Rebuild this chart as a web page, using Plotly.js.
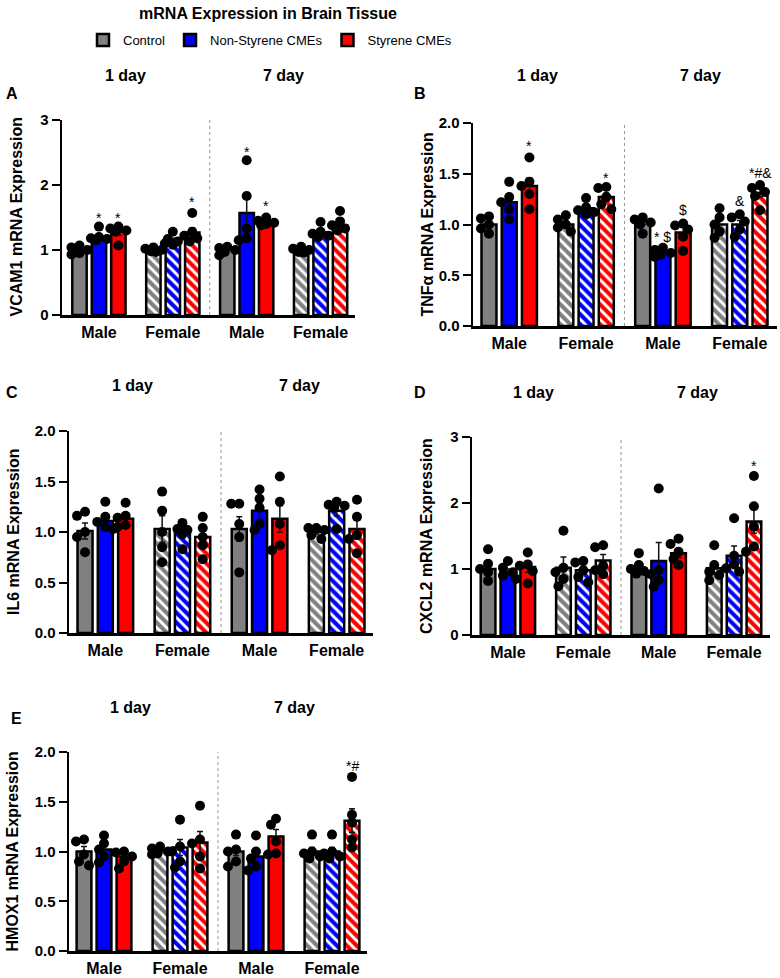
<!DOCTYPE html>
<html>
<head>
<meta charset="utf-8">
<script src="https://cdn.plot.ly/plotly-3.0.1.min.js"></script>
<style>
  html, body { margin: 0; padding: 0; background: #fff; }
  #chart { width: 780px; height: 978px; }
</style>
</head>
<body>
<div id="chart"></div>
<script>
// bar order in every panel: Male 1d (C, N, S), Female 1d, Male 7d, Female 7d
const treatments = ['Control', 'Non-Styrene CMEs', 'Styrene CMEs'];
const fills = ['#808080', '#0000ff', '#ff0000'];
const groupLabels = ['Male', 'Female', 'Male', 'Female'];
const femaleGroup = [false, true, false, true];

// A - VCAM1
const vcamMean = [1.00, 1.20, 1.28, 1.00, 1.14, 1.27, 1.02, 1.57, 1.43, 0.99, 1.27, 1.38];
const vcamSem = [0.02, 0.04, 0.05, 0.02, 0.04, 0.07, 0.02, 0.22, 0.02, 0.02, 0.04, 0.06];
const vcamPts = [
  [1.07, 1.04, 1.00, 0.95, 0.93], [1.36, 1.20, 1.18, 1.17, 1.15], [1.36, 1.33, 1.30, 1.28, 1.07],
  [1.04, 1.02, 1.00, 0.98, 0.97], [1.28, 1.17, 1.13, 1.10, 1.08], [1.57, 1.28, 1.22, 1.18, 1.13],
  [1.05, 1.03, 1.00, 0.97, 0.92], [2.38, 1.83, 1.33, 1.18, 1.15], [1.50, 1.45, 1.42, 1.40, 1.38],
  [1.05, 1.02, 1.00, 0.97, 0.96], [1.43, 1.28, 1.25, 1.22, 1.20], [1.60, 1.44, 1.38, 1.33, 1.30]
];
const vcamSigBar = [1, 2, 5, 7, 8];
const vcamSigText = ['*', '*', '*', '*', '*'];
const vcamSigY = [1.54, 1.54, 1.78, 2.56, 1.72];

// B - TNFa
const tnfMean = [1.00, 1.22, 1.38, 1.00, 1.16, 1.27, 1.03, 0.73, 0.92, 1.00, 1.00, 1.31];
const tnfSem = [0.03, 0.07, 0.08, 0.03, 0.03, 0.04, 0.03, 0.02, 0.05, 0.05, 0.04, 0.04];
const tnfPts = [
  [1.08, 1.06, 1.00, 0.96, 0.91], [1.42, 1.27, 1.22, 1.15, 1.05], [1.66, 1.42, 1.38, 1.30, 1.15],
  [1.09, 1.05, 1.00, 0.97, 0.93], [1.26, 1.17, 1.14, 1.12, 1.10], [1.37, 1.36, 1.27, 1.20, 1.15],
  [1.07, 1.05, 1.02, 1.00, 0.91], [0.77, 0.75, 0.72, 0.70, 0.68], [1.01, 0.99, 0.95, 0.88, 0.74],
  [1.16, 1.07, 1.00, 0.93, 0.87], [1.10, 1.07, 1.03, 0.95, 0.88], [1.39, 1.36, 1.32, 1.28, 1.14]
];
const tnfSigBar = [2, 5, 7, 8, 10, 11];
const tnfSigText = ['*', '*', '* $', '$', '&', '*#&'];
const tnfSigY = [1.80, 1.49, 0.91, 1.17, 1.26, 1.54];

// C - IL6
const il6Mean = [1.01, 1.11, 1.13, 1.03, 0.99, 0.95, 1.03, 1.21, 1.13, 1.00, 1.21, 1.03];
const il6Sem = [0.08, 0.05, 0.04, 0.13, 0.05, 0.07, 0.12, 0.07, 0.13, 0.02, 0.05, 0.10];
const il6Pts = [
  [1.20, 1.16, 1.00, 0.95, 0.80], [1.30, 1.15, 1.10, 1.05, 1.03], [1.29, 1.16, 1.14, 1.07, 1.05],
  [1.40, 1.21, 1.00, 0.85, 0.70], [1.09, 1.03, 1.02, 0.98, 0.83], [1.15, 1.04, 0.95, 0.87, 0.73],
  [1.28, 1.28, 1.08, 0.95, 0.60], [1.42, 1.33, 1.24, 1.08, 1.02], [1.55, 1.30, 1.08, 0.87, 0.82],
  [1.04, 1.04, 1.02, 0.97, 0.93], [1.30, 1.27, 1.26, 1.24, 1.03], [1.32, 1.15, 0.97, 0.93, 0.79]
];
const il6SigBar = [];
const il6SigText = [];
const il6SigY = [];

// D - CXCL2
const cxclMean = [1.00, 0.95, 1.03, 1.02, 0.98, 1.13, 1.01, 1.12, 1.24, 1.01, 1.20, 1.72];
const cxclSem = [0.08, 0.05, 0.08, 0.16, 0.06, 0.09, 0.05, 0.28, 0.07, 0.09, 0.15, 0.18];
const cxclPts = [
  [1.30, 1.08, 1.00, 0.95, 0.82], [1.12, 1.02, 0.95, 0.90, 0.85], [1.25, 1.07, 1.05, 0.97, 0.78],
  [1.58, 1.02, 0.95, 0.85, 0.74], [1.12, 1.10, 0.98, 0.88, 0.80], [1.36, 1.33, 1.05, 0.98, 0.92],
  [1.24, 1.06, 1.00, 0.97, 0.93], [2.22, 0.98, 0.92, 0.83, 0.73], [1.46, 1.38, 1.26, 1.15, 1.06],
  [1.36, 1.06, 0.96, 0.91, 0.83], [1.77, 1.20, 1.07, 1.01, 0.96], [2.41, 1.95, 1.64, 1.34, 1.26]
];
const cxclSigBar = [11];
const cxclSigText = ['*'];
const cxclSigY = [2.60];

// E - HMOX1
const hmoxMean = [1.00, 1.02, 0.95, 1.01, 1.04, 1.09, 1.00, 0.95, 1.15, 1.00, 1.00, 1.31];
const hmoxSem = [0.05, 0.05, 0.04, 0.02, 0.08, 0.11, 0.04, 0.06, 0.07, 0.04, 0.04, 0.12];
const hmoxPts = [
  [1.12, 1.10, 0.97, 0.90, 0.86], [1.16, 1.08, 1.02, 0.95, 0.89], [1.00, 0.99, 0.95, 0.90, 0.83],
  [1.05, 1.03, 1.00, 0.98, 0.97], [1.32, 1.05, 1.00, 0.90, 0.84], [1.46, 1.12, 1.08, 0.95, 0.83],
  [1.17, 1.02, 1.00, 0.90, 0.85], [1.16, 1.00, 0.93, 0.85, 0.81], [1.33, 1.27, 1.10, 0.98, 0.97],
  [1.17, 1.00, 0.98, 0.95, 0.93], [1.17, 1.00, 0.98, 0.95, 0.93], [1.75, 1.37, 1.29, 1.12, 1.04]
];
const hmoxSigBar = [11];
const hmoxSigText = ['*#'];
const hmoxSigY = [1.89];

const W = 780, H = 978;
const FONT = 'Liberation Sans, Arial, sans-serif';
const S = 3.8; // spacing between sex groups, in bar units

// box = [left, right, top, bottom] in px, day = x of "1 day"/"7 day", dayY, letter pos, title x
const panels = [
  {key: 'A', ytitle: 'VCAM1 mRNA Expression', mean: vcamMean, sem: vcamSem, pts: vcamPts,
   sigBar: vcamSigBar, sigText: vcamSigText, sigY: vcamSigY, ymax: 3, dtick: 1, fmt: 'd',
   box: [62, 355, 120, 315], xr: [-1.9, 13.17], day: [125, 283], dayY: 75, letter: [12, 93], tx: 16},
  {key: 'B', ytitle: 'TNFα mRNA Expression', mean: tnfMean, sem: tnfSem, pts: tnfPts,
   sigBar: tnfSigBar, sigText: tnfSigText, sigY: tnfSigY, ymax: 2, dtick: 0.5, fmt: '.1f',
   box: [473, 777, 123, 326], xr: [-1.79, 13.24], day: [537, 700], dayY: 75, letter: [420, 93], tx: 427},
  {key: 'C', ytitle: 'IL6 mRNA Expression', mean: il6Mean, sem: il6Sem, pts: il6Pts,
   sigBar: il6SigBar, sigText: il6SigText, sigY: il6SigY, ymax: 2, dtick: 0.5, fmt: '.1f',
   box: [69, 373, 431, 633], xr: [-1.79, 13.19], day: [132, 299], dayY: 385, letter: [12, 392], tx: 13},
  {key: 'D', ytitle: 'CXCL2 mRNA Expression', mean: cxclMean, sem: cxclSem, pts: cxclPts,
   sigBar: cxclSigBar, sigText: cxclSigText, sigY: cxclSigY, ymax: 3, dtick: 1, fmt: 'd',
   box: [472, 770, 437, 635], xr: [-1.81, 13.21], day: [533, 697], dayY: 392, letter: [420, 392], tx: 426},
  {key: 'E', ytitle: 'HMOX1 mRNA Expression', mean: hmoxMean, sem: hmoxSem, pts: hmoxPts,
   sigBar: hmoxSigBar, sigText: hmoxSigText, sigY: hmoxSigY, ymax: 2, dtick: 0.5, fmt: '.1f',
   box: [69, 367, 752, 951], xr: [-1.75, 13.15], day: [130, 294], dayY: 707, letter: [16, 718], tx: 12}
];

function barX(i) {
  const g = Math.floor(i / 3), k = i % 3;
  return g * S + (k - 1);
}
const px = v => v / W;
const py = v => 1 - v / H;

// spread overlapping dots sideways (offsets in px)
function swarm(vals, ppuY) {
  const cand = [0, -5, 5, -8, 8, -2.5, 2.5];
  const order = vals.map((v, i) => i).sort((a, b) => vals[b] - vals[a]);
  const placed = [];
  const out = new Array(vals.length).fill(0);
  order.forEach(i => {
    let best = 0, bestD = -1;
    for (const c of cand) {
      const d = placed.length ? Math.min(...placed.map(p => Math.hypot(p.dx - c, (p.v - vals[i]) * ppuY))) : 99;
      if (d >= 7.5) { best = c; bestD = d; break; }
      if (d > bestD) { bestD = d; best = c; }
    }
    placed.push({dx: best, v: vals[i]});
    out[i] = best;
  });
  return out;
}

const data = [];
const layout = {
  width: W, height: H,
  margin: {l: 0, r: 0, t: 0, b: 0},
  paper_bgcolor: '#fff', plot_bgcolor: 'rgba(0,0,0,0)',
  font: {family: FONT, color: '#000'},
  title: {text: '<b>mRNA Expression in Brain Tissue</b>', x: px(268), xanchor: 'center',
          y: py(13), yanchor: 'middle', font: {family: FONT, size: 16, color: '#000'}},
  showlegend: true,
  legend: {orientation: 'h', x: px(270), xanchor: 'center', y: py(40), yanchor: 'middle',
           font: {family: FONT, size: 13, color: '#000'}, itemwidth: 30, traceorder: 'normal'},
  shapes: [],
  annotations: []
};

panels.forEach((p, n) => {
  const sfx = n === 0 ? '' : String(n + 1);
  const xa = 'x' + sfx, ya = 'y' + sfx;
  const [l, r, t, b] = p.box;
  const ppuX = (r - l) / (p.xr[1] - p.xr[0]);
  const ppuY = (b - t) / p.ymax;

  treatments.forEach((name, k) => {
    const idx = [k, k + 3, k + 6, k + 9];
    data.push({
      type: 'bar', name: name, xaxis: xa, yaxis: ya,
      x: idx.map(barX), y: idx.map(i => p.mean[i]), width: 0.74,
      legendgroup: name, showlegend: n === 0,
      marker: {
        color: fills[k], line: {color: '#000', width: 2.5},
        pattern: {shape: femaleGroup.map(f => f ? '\\' : ''), bgcolor: fills[k], fgcolor: '#fff',
                  size: 7, solidity: 0.42, fillmode: 'replace'}
      },
      error_y: {type: 'data', array: idx.map(i => p.sem[i]), color: '#111', thickness: 1.5, width: 3},
      hoverinfo: 'skip'
    });
  });

  const dx = [], dy = [];
  p.pts.forEach((vals, i) => {
    const off = swarm(vals, ppuY);
    vals.forEach((v, j) => { dx.push(barX(i) + off[j] / ppuX); dy.push(v); });
  });
  data.push({type: 'scatter', mode: 'markers', xaxis: xa, yaxis: ya, x: dx, y: dy,
             marker: {size: 10, color: '#000'}, showlegend: false, hoverinfo: 'skip'});

  layout['xaxis' + sfx] = {
    domain: [px(l), px(r)], range: p.xr, anchor: ya,
    showline: true, linecolor: '#000', linewidth: 2.5, ticks: '',
    tickvals: [0, S, 2 * S, 3 * S], ticktext: groupLabels, ticklabelstandoff: 1,
    tickfont: {family: FONT, size: 16, weight: 'bold', color: '#000'},
    showgrid: false, zeroline: false, fixedrange: true
  };
  layout['yaxis' + sfx] = {
    domain: [py(b), py(t)], range: [0, p.ymax], anchor: xa,
    showline: true, linecolor: '#000', linewidth: 2.5,
    ticks: 'outside', ticklen: 8, tickwidth: 2, tickcolor: '#000',
    tick0: 0, dtick: p.dtick, tickformat: p.fmt,
    tickfont: {family: FONT, size: 15, weight: 'bold', color: '#000'},
    showgrid: false, zeroline: false, fixedrange: true
  };

  // dotted divider between 1 day and 7 day
  layout.shapes.push({type: 'line', xref: xa, yref: ya + ' domain', x0: 1.5 * S, x1: 1.5 * S, y0: 0, y1: 1,
                      line: {color: '#999', width: 1, dash: 'dot'}});

  const ann = layout.annotations;
  ann.push({xref: 'paper', yref: 'paper', x: px(p.letter[0]), y: py(p.letter[1]), text: '<b>' + p.key + '</b>',
            showarrow: false, xanchor: 'center', yanchor: 'middle', font: {size: 16, color: '#000'}});
  ['1 day', '7 day'].forEach((d, i) => {
    ann.push({xref: 'paper', yref: 'paper', x: px(p.day[i]), y: py(p.dayY), text: '<b>' + d + '</b>',
              showarrow: false, xanchor: 'center', yanchor: 'middle', font: {size: 16, color: '#000'}});
  });
  ann.push({xref: 'paper', yref: 'paper', x: px(p.tx), y: py((t + b) / 2), text: '<b>' + p.ytitle + '</b>',
            textangle: -90, showarrow: false, xanchor: 'center', yanchor: 'middle', font: {size: 16, color: '#000'}});
  p.sigBar.forEach((bi, i) => {
    ann.push({xref: xa, yref: ya, x: barX(bi), y: p.sigY[i], text: p.sigText[i], showarrow: false,
              xanchor: 'center', yanchor: 'middle', yshift: -3, font: {size: 14, color: '#000'}});
  });
});

Plotly.newPlot('chart', data, layout, {staticPlot: true});
</script>
</body>
</html>
